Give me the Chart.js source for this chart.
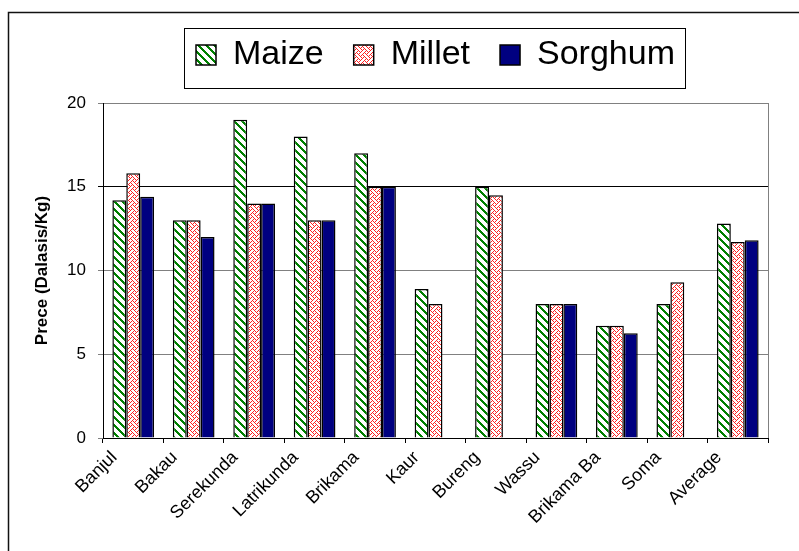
<!DOCTYPE html>
<html><head><meta charset="utf-8">
<script src="https://cdn.jsdelivr.net/npm/chart.js@4/dist/chart.umd.min.js"></script>
<style>html,body{margin:0;padding:0;background:#fff}#wrap{width:799px;height:551px;position:relative}</style>
</head><body><div id="wrap"><canvas id="c" width="799" height="551"></canvas></div>
<script>
const categories = ['Banjul','Bakau','Serekunda','Latrikunda','Brikama','Kaur','Bureng','Wassu','Brikama Ba','Soma','Average'];
const maize   = [14.2, 13, 19, 18, 17, 8.9, 15, 8, 6.7, 8, 12.8];
const millet  = [15.8, 13, 14, 13, 15, 8, 14.5, 8, 6.7, 9.3, 11.7];
const sorghum = [14.4, 12, 14, 13, 15, null, null, 8, 6.25, null, 11.8];
const seriesNames = ['Maize', 'Millet', 'Sorghum'];
const yTicks = [0, 5, 10, 15, 20];
const yTitle = 'Prece (Dalasis/Kg)';

const FONT = 'Liberation Sans, Arial, sans-serif';

function makePattern(size, painter) {
  const c = document.createElement('canvas');
  c.width = size; c.height = size;
  const g = c.getContext('2d');
  g.fillStyle = '#fff'; g.fillRect(0, 0, size, size);
  painter(g, size);
  return document.getElementById('c').getContext('2d').createPattern(c, 'repeat');
}
const maizeFill = makePattern(8, (g, n) => {
  g.fillStyle = '#008000';
  for (let y = 0; y < n; y++) for (let x = 0; x < n; x++) {
    const d = ((x - y) % n + n) % n;
    if (d < 3) g.fillRect(x, y, 1, 1);
  }
});
const weave = [
  '10001000',
  '01010100',
  '00100010',
  '01000101',
  '10001000',
  '00010101',
  '00100010',
  '01010001'
];
const milletFill = makePattern(8, (g, n) => {
  g.fillStyle = '#ff2020';
  for (let y = 0; y < n; y++) for (let x = 0; x < n; x++) {
    if (weave[y][x] === '1') g.fillRect(x, y, 1, 1);
  }
});

const framePlugin = {
  id: 'frame',
  beforeDraw(chart) {
    const ctx = chart.ctx;
    ctx.save();
    ctx.strokeStyle = '#111';
    ctx.lineWidth = 1.5;
    ctx.strokeRect(8.5, 12.5, 1000, 1000);
    ctx.restore();
  },
  afterDraw(chart) {
    const ctx = chart.ctx, a = chart.chartArea;
    ctx.save();
    ctx.strokeStyle = '#808080';
    ctx.lineWidth = 1;
    ctx.beginPath();
    ctx.moveTo(Math.round(a.right) + 0.5, a.top);
    ctx.lineTo(Math.round(a.right) + 0.5, a.bottom);
    ctx.stroke();
    const hb = chart.legend.legendHitBoxes;
    if (hb && hb.length) {
      const first = hb[0], last = hb[hb.length - 1];
      const l = first.left - 12, r = last.left + last.width + 10;
      const t = first.top - 10, b = first.top + first.height + 16;
      ctx.strokeStyle = '#000';
      ctx.lineWidth = 1;
      ctx.strokeRect(Math.round(l) + 0.5, Math.round(t) + 0.5, Math.round(r - l), Math.round(b - t));
    }
    ctx.restore();
  }
};

new Chart(document.getElementById('c'), {
  type: 'bar',
  data: {
    labels: categories,
    datasets: [
      { label: seriesNames[0], data: maize, backgroundColor: maizeFill, borderColor: '#000', borderWidth: 1.5 },
      { label: seriesNames[1], data: millet, backgroundColor: milletFill, borderColor: '#000', borderWidth: 1.5 },
      { label: seriesNames[2], data: sorghum, backgroundColor: '#000080', borderColor: '#000', borderWidth: 1.5 }
    ]
  },
  options: {
    responsive: false,
    animation: false,
    devicePixelRatio: 1,
    layout: { padding: { left: 0, right: 31, top: 8, bottom: 0 } },
    datasets: { bar: { categoryPercentage: 0.69, barPercentage: 1.0 } },
    plugins: {
      legend: {
        position: 'top',
        fullSize: false,
        labels: {
          font: { family: FONT, size: 34 },
          color: '#000',
          boxWidth: 20, boxHeight: 20,
          padding: 30
        }
      },
      subtitle: { display: true, text: '', weight: 500, font: { size: 10 }, padding: { top: 0, bottom: 9 } },
      tooltip: { enabled: false }
    },
    scales: {
      x: {
        offset: true,
        grid: { display: true, drawOnChartArea: false, drawTicks: true, tickLength: 5, color: '#000', offset: true },
        border: { color: '#000', width: 1 },
        ticks: {
          font: { family: FONT, size: 18 },
          color: '#000', minRotation: 45, maxRotation: 45, autoSkip: false,
          labelOffset: -19, padding: 4
        },
        afterFit(s) { s.height = 113; }
      },
      y: {
        min: 0, max: 20,
        afterBuildTicks(s) { s.ticks = yTicks.map(v => ({ value: v })); },
        grid: {
          color: ctx => (ctx.tick && ctx.tick.value === 15) ? '#000' : '#808080',
          lineWidth: 1, drawTicks: true, tickLength: 5
        },
        border: { color: '#000', width: 1 },
        ticks: { font: { family: FONT, size: 17 }, color: '#000', padding: 12 },
        title: {
          display: true, text: yTitle, color: '#000',
          font: { family: FONT, size: 17, weight: 'bold' },
          padding: { top: 32, bottom: 0 }
        },
        afterFit(s) { s.width = 103; }
      }
    }
  },
  plugins: [framePlugin]
});
</script>
</body></html>
